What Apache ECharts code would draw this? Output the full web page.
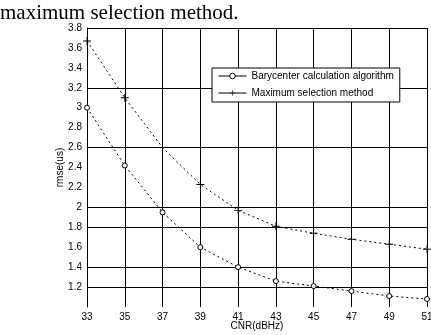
<!DOCTYPE html>
<html>
<head>
<meta charset="utf-8">
<script src="https://cdn.jsdelivr.net/npm/echarts@6/dist/echarts.min.js"></script>
<style>
  html, body { margin: 0; padding: 0; background: #fff; }
  #chart { width: 431px; height: 335px; }
</style>
</head>
<body>
<div id="chart"></div>
<script>
// CNR in dB-Hz
const cnr = [33, 35, 37, 39, 41, 43, 45, 47, 49, 51];
// rmse (us) per method
const barycenter = [3.0, 2.42, 1.95, 1.6, 1.4, 1.26, 1.21, 1.16, 1.11, 1.08];
const maxSelection = [3.67, 3.1, 2.6, 2.23, 1.97, 1.81, 1.74, 1.68, 1.63, 1.58];
const seriesNames = ["Barycenter calculation algorithm", "Maximum selection method"];

// only some horizontal grid lines survive in the scan (1.0 ... 3.8)
const hLineColors = [
  "transparent", "#000", "#000", "transparent", "#000", "#000",
  "transparent", "transparent", "#000", "transparent", "transparent",
  "#000", "transparent", "transparent", "#000",
];

const plusPath = "path://M4,0H5V4H9V5H5V9H4V5H0V4H4Z";

const chart = echarts.init(document.getElementById("chart"));

const labelFont = {
  color: "#000",
  fontFamily: "Liberation Sans, Arial, sans-serif",
  fontSize: 10,
};

const option = {
  animation: false,
  backgroundColor: "#fff",
  title: {
    text: "maximum selection method.",
    left: 0,
    top: 3,
    padding: 0,
    textStyle: {
      fontFamily: "Liberation Serif, Times New Roman, serif",
      fontWeight: "normal",
      fontSize: 21,
      color: "#000",
    },
  },
  grid: {
    left: 87,
    right: 4,
    top: 28,
    bottom: 28,
    outerBoundsMode: "none",
  },
  legend: {
    orient: "vertical",
    left: 212,
    top: 68,
    padding: [3, 6, 4, 6],
    itemWidth: 28,
    itemHeight: 7,
    itemGap: 7,
    backgroundColor: "#fff",
    borderColor: "#000",
    borderWidth: 1,
    borderRadius: 0,
    lineStyle: { type: "solid", width: 1 },
    itemStyle: { borderWidth: 1 },
    textStyle: labelFont,
    data: seriesNames,
  },
  xAxis: {
    type: "value",
    min: 33,
    max: 51,
    interval: 2,
    name: "CNR(dBHz)",
    nameLocation: "middle",
    nameGap: 14,
    nameMoveOverlap: false,
    nameTextStyle: labelFont,
    axisLine: { show: false },
    axisTick: { show: false },
    axisLabel: Object.assign({ margin: 5 }, labelFont),
    splitLine: { show: true, lineStyle: { color: "#000", width: 1 } },
  },
  yAxis: {
    type: "value",
    min: 1,
    max: 3.8,
    interval: 0.2,
    name: "rmse(us)",
    nameLocation: "middle",
    nameGap: 22,
    nameMoveOverlap: false,
    nameTextStyle: labelFont,
    axisLine: { show: true, lineStyle: { color: "#000", width: 1 } },
    axisTick: { show: false },
    axisLabel: Object.assign(
      {
        margin: 5,
        showMinLabel: false,
        formatter: (v) => String(Math.round(v * 10) / 10),
      },
      labelFont
    ),
    splitLine: { show: true, lineStyle: { color: hLineColors, width: 1 } },
  },
  series: [
    {
      name: seriesNames[0],
      type: "line",
      data: cnr.map((x, i) => [x, barycenter[i]]),
      symbol: "circle",
      symbolSize: 5,
      itemStyle: { color: "#fff", borderColor: "#000", borderWidth: 1 },
      lineStyle: { color: "#000", width: 1, type: [2, 3] },
    },
    {
      name: seriesNames[1],
      type: "line",
      data: cnr.map((x, i) => [x, maxSelection[i]]),
      symbol: plusPath,
      symbolSize: 8,
      itemStyle: { color: "#000" },
      lineStyle: { color: "#000", width: 1, type: [2, 3] },
    },
  ],
};

chart.setOption(option);
</script>
</body>
</html>
